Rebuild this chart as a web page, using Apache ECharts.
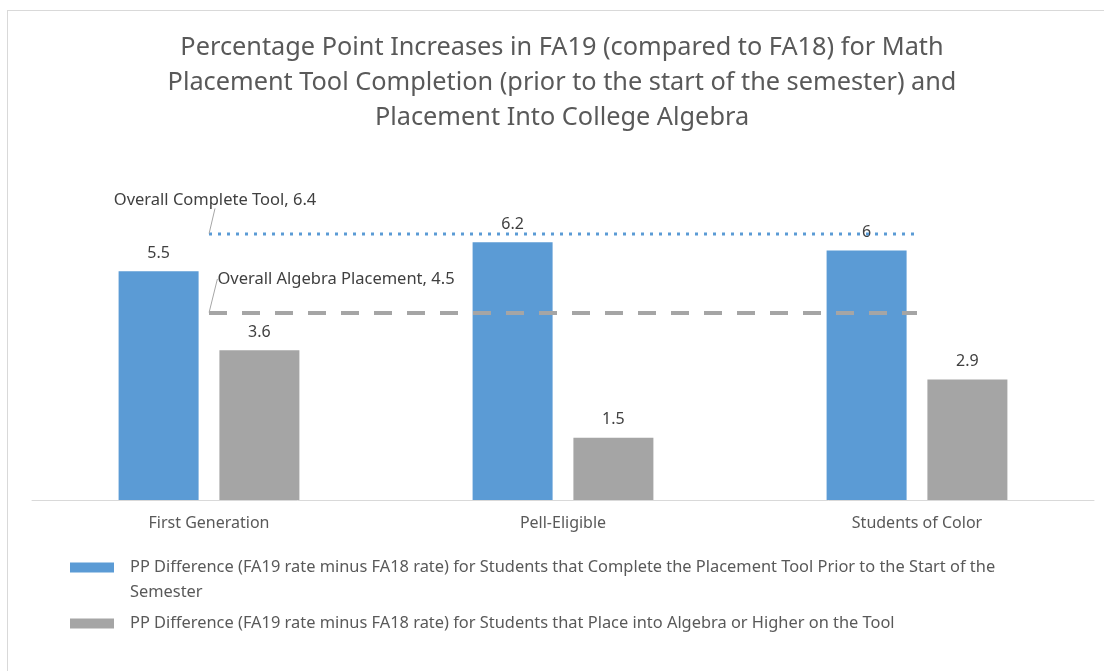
<!DOCTYPE html>
<html>
<head>
<meta charset="utf-8">
<script src="https://cdn.jsdelivr.net/npm/echarts@6/dist/echarts.min.js"></script>
<style>
  html, body { margin: 0; padding: 0; background: #fff; }
  #frame { position: absolute; left: 7px; top: 10px; width: 1097px; height: 661px;
           border-left: 1px solid #d9d9d9; border-top: 1px solid #d9d9d9; }
  #chart { position: absolute; left: 0; top: 0; width: 1104px; height: 671px; }
</style>
</head>
<body>
<div id="frame"></div>
<div id="chart"></div>
<script>
const categories = ['First Generation', 'Pell-Eligible', 'Students of Color'];
const completeTool = [5.5, 6.2, 6];
const algebraPlacement = [3.6, 1.5, 2.9];
const overallComplete = [6.4, 6.4, 6.4];
const overallAlgebra = [4.5, 4.5, 4.5];

const nameComplete = 'PP Difference (FA19 rate minus FA18 rate) for Students that Complete the Placement Tool Prior to the Start of the Semester';
const nameAlgebra = 'PP Difference (FA19 rate minus FA18 rate) for Students that Place into Algebra or Higher on the Tool';

const font = 'Noto Sans';
const chart = echarts.init(document.getElementById('chart'));

// legend icons: swatch drawn at the top (first) or middle (second) of the item box
const iconTop = 'path://M0,0h44v10h-44z M0,35L55,35';
const iconMid = 'path://M0,0L55,0 M0,12.5h44v10h-44z M0,35L55,35';

// only the first point of each reference line carries a label
const withFirstLabel = (values, title) => values.map((v, i) => i !== 0 ? v : {
  value: v,
  label: {
    show: true,
    position: 'top',
    color: '#404040',
    fontSize: 16.5,
    formatter: title + ', {c}'
  },
  labelLine: { show: true, lineStyle: { color: '#a6a6a6', width: 1 } }
});

chart.setOption({
  backgroundColor: 'transparent',
  animation: false,
  textStyle: { fontFamily: font },
  title: {
    text: 'Percentage Point Increases in FA19 (compared to FA18) for Math\nPlacement Tool Completion (prior to the start of the semester) and\nPlacement Into College Algebra',
    left: 557,
    textAlign: 'center',
    top: 25,
    textStyle: { fontSize: 25.3, fontWeight: 'normal', color: '#595959', lineHeight: 35, fontFamily: font }
  },
  legend: {
    orient: 'vertical',
    left: 65,
    top: 550,
    itemWidth: 55,
    itemHeight: 35,
    itemGap: 1,
    data: [
      { name: nameComplete, icon: iconTop },
      { name: nameAlgebra, icon: iconMid }
    ],
    textStyle: { fontSize: 16.4, color: '#595959', width: 900, overflow: 'break', lineHeight: 25 }
  },
  grid: { left: 32, right: 10, top: 209, bottom: 171 },
  xAxis: {
    type: 'category',
    data: categories,
    axisTick: { show: false },
    axisLine: { lineStyle: { color: '#d9d9d9' } },
    axisLabel: { color: '#595959', fontSize: 16, margin: 15 }
  },
  yAxis: {
    type: 'value',
    min: 0,
    max: 7,
    show: false,
    splitLine: { show: false }
  },
  series: [
    {
      name: nameComplete,
      type: 'bar',
      data: completeTool,
      barWidth: 80,
      barGap: '26%',
      itemStyle: { color: '#5b9bd5' },
      label: { show: true, position: 'top', color: '#404040', fontSize: 16, distance: 10 }
    },
    {
      name: nameAlgebra,
      type: 'bar',
      data: algebraPlacement,
      barWidth: 80,
      itemStyle: { color: '#a5a5a5' },
      label: { show: true, position: 'top', color: '#404040', fontSize: 16, distance: 10 }
    },
    {
      name: 'Overall Complete Tool',
      type: 'line',
      data: withFirstLabel(overallComplete, 'Overall Complete Tool'),
      symbol: 'circle',
      symbolSize: 1,
      itemStyle: { color: 'rgba(0,0,0,0)' },
      z: 5,
      lineStyle: { color: '#5b9bd5', width: 3, type: [3, 6] },
      label: { show: false },
      labelLayout: p => p.dataIndex === 0 ? { dx: 6, dy: -20 } : {}
    },
    {
      name: 'Overall Algebra Placement',
      type: 'line',
      data: withFirstLabel(overallAlgebra, 'Overall Algebra Placement'),
      symbol: 'circle',
      symbolSize: 1,
      itemStyle: { color: 'rgba(0,0,0,0)' },
      z: 5,
      lineStyle: { color: '#a5a5a5', width: 4, type: [18, 15] },
      label: { show: false },
      labelLayout: p => p.dataIndex === 0 ? { dx: 127, dy: -20 } : {}
    }
  ]
});
</script>
</body>
</html>
